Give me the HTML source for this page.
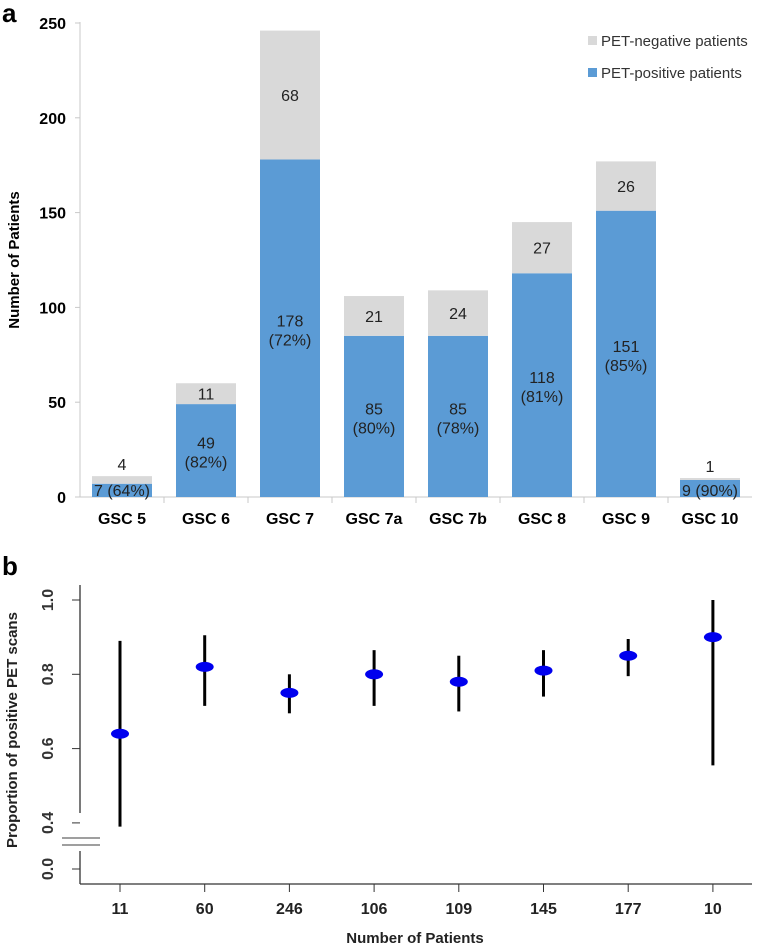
<!DOCTYPE html>
<html><head><meta charset="utf-8"><style>
body{margin:0;background:#fff;}
svg{display:block;font-family:"Liberation Sans",Arial,sans-serif;}
</style></head><body>
<svg id="c" width="761" height="945" xmlns="http://www.w3.org/2000/svg">
<text x="2" y="22" font-size="26" font-weight="bold">a</text>
<text x="2" y="575" font-size="26" font-weight="bold">b</text>
<g id="gtop"></g><g id="gbot"></g>
</svg>
<script>
const categories=["GSC 5","GSC 6","GSC 7","GSC 7a","GSC 7b","GSC 8","GSC 9","GSC 10"];
const positive=[7,49,178,85,85,118,151,9];
const negative=[4,11,68,21,24,27,26,1];
const pctLabels=["64%","82%","72%","80%","78%","81%","85%","90%"];
const yTicksA=[0,50,100,150,200,250];
const nPatients=["11","60","246","106","109","145","177","10"];
const prop=[0.64,0.82,0.75,0.80,0.78,0.81,0.85,0.90];
const lower=[0.39,0.715,0.695,0.715,0.70,0.74,0.795,0.555];
const upper=[0.89,0.905,0.80,0.865,0.85,0.865,0.895,1.0];
const yTicksB=[0.4,0.6,0.8,1.0];
const NS="http://www.w3.org/2000/svg";
function mk(p,t,a,txt){const e=document.createElementNS(NS,t);for(const k in a)e.setAttribute(k,a[k]);if(txt!=null)e.textContent=txt;p.appendChild(e);return e;}
const gTop=document.getElementById('gtop'),gBot=document.getElementById('gbot');
const xA=i=>122+i*84, yA=v=>497-v*1.896;
let e=mk(gTop,'line',{x1:80,y1:22,x2:80,y2:497,stroke:'#c8c8c8'});


e=mk(gTop,'line',{x1:80,y1:497,x2:752,y2:497,stroke:'#c8c8c8'});


yTicksA.forEach(v=>{mk(gTop,'line',{x1:75,y1:yA(v),x2:80,y2:yA(v),stroke:'#c8c8c8'});
 e=mk(gTop,'text',{x:66,y:yA(v)+6,'font-size':16,'font-weight':'bold','text-anchor':'end'},v);
 
 });
for(let i=1;i<8;i++)mk(gTop,'line',{x1:80+i*84,y1:497,x2:80+i*84,y2:503,stroke:'#c8c8c8'});
e=mk(gTop,'text',{transform:'translate(19,260) rotate(-90)','font-size':15,'font-weight':'bold','text-anchor':'middle'},'Number of Patients');


categories.forEach((c,i)=>{
 const x=xA(i),p=positive[i],n=negative[i];
 e=mk(gTop,'rect',{x:x-30,y:yA(p),width:60,height:yA(0)-yA(p),fill:'#5b9bd5'});
 
 
 e=mk(gTop,'rect',{x:x-30,y:yA(p+n),width:60,height:yA(p)-yA(p+n),fill:'#d9d9d9'});
 
 
 const small=(p+n)<30;
 if(small){
  e=mk(gTop,'text',{x:x,y:yA(p+n)-6,'font-size':16,'text-anchor':'middle',fill:'#222'},n);
  
  
  e=mk(gTop,'text',{x:x,y:yA(0)-1,'font-size':16,'text-anchor':'middle',fill:'#222'},p+' ('+pctLabels[i]+')');
  
  
 }else{
  e=mk(gTop,'text',{x:x,y:(yA(p)+yA(p+n))/2+6,'font-size':16,'text-anchor':'middle',fill:'#222'},n);
  
  
  const my=(yA(p)+yA(0))/2;
  e=mk(gTop,'text',{x:x,y:my-2,'font-size':16,'text-anchor':'middle',fill:'#222'},p);
  
  
  e=mk(gTop,'text',{x:x,y:my+17,'font-size':16,'text-anchor':'middle',fill:'#222'},'('+pctLabels[i]+')');
  
  
 }
 e=mk(gTop,'text',{x:x,y:524,'font-size':16,'font-weight':'bold','text-anchor':'middle'},c);
 
 
});
e=mk(gTop,'rect',{x:588,y:36,width:9,height:9,fill:'#d9d9d9'});


e=mk(gTop,'text',{x:601,y:46,'font-size':15,fill:'#333'},'PET-negative patients');


e=mk(gTop,'rect',{x:588,y:68,width:9,height:9,fill:'#5b9bd5'});


e=mk(gTop,'text',{x:601,y:78,'font-size':15,fill:'#333'},'PET-positive patients');


const xB=i=>120+i*84.7, yB=v=>600+(1-v)*371.5;
e=mk(gBot,'line',{x1:80,y1:585,x2:80,y2:813,stroke:'#333','stroke-width':1.3});


mk(gBot,'line',{x1:80,y1:851,x2:80,y2:884,stroke:'#333','stroke-width':1.3});
mk(gBot,'line',{x1:62,y1:838,x2:100,y2:838,stroke:'#666','stroke-width':1.2});
mk(gBot,'line',{x1:62,y1:845,x2:100,y2:845,stroke:'#666','stroke-width':1.2});
e=mk(gBot,'line',{x1:80,y1:884,x2:752,y2:884,stroke:'#333','stroke-width':1.3});


yTicksB.forEach(v=>{mk(gBot,'line',{x1:72,y1:yB(v),x2:80,y2:yB(v),stroke:'#333'});
 e=mk(gBot,'text',{transform:`translate(53,${yB(v)}) rotate(-90)`,'font-size':16,'font-weight':'bold','text-anchor':'middle',fill:'#333'},v.toFixed(1));
 
 });
mk(gBot,'line',{x1:72,y1:869,x2:80,y2:869,stroke:'#333'});
e=mk(gBot,'text',{transform:'translate(53,869) rotate(-90)','font-size':16,'font-weight':'bold','text-anchor':'middle',fill:'#333'},'0.0');


e=mk(gBot,'text',{transform:'translate(17,730) rotate(-90)','font-size':15,'font-weight':'bold','text-anchor':'middle',fill:'#222'},'Proportion of positive PET scans');


nPatients.forEach((n,i)=>{
 const x=xB(i);
 mk(gBot,'line',{x1:x,y1:884,x2:x,y2:892,stroke:'#333'});
 e=mk(gBot,'text',{x:x,y:914,'font-size':16,'font-weight':'bold','text-anchor':'middle',fill:'#222'},n);
 
 
 e=mk(gBot,'line',{x1:x,y1:yB(upper[i]),x2:x,y2:yB(lower[i]),stroke:'#000','stroke-width':3});
 
 
 e=mk(gBot,'ellipse',{cx:x,cy:yB(prop[i]),rx:9,ry:5,fill:'#0000ee'});
 
 
});
e=mk(gBot,'text',{x:415,y:943,'font-size':15,'font-weight':'bold','text-anchor':'middle',fill:'#222'},'Number of Patients');


</script>
</body></html>
